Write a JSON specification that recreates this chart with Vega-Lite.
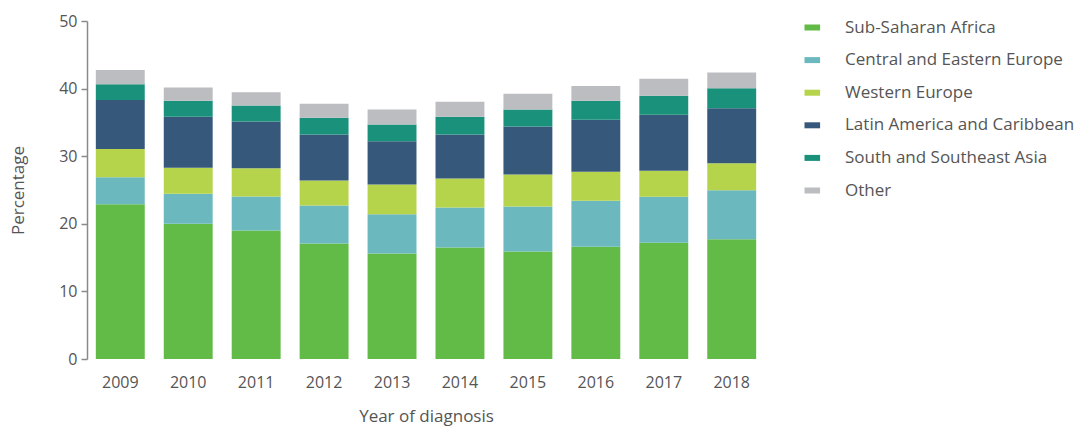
{
  "$schema": "https://vega.github.io/schema/vega-lite/v6.json",
  "autosize": "none",
  "width": 678,
  "height": 338,
  "padding": {"left": 87, "top": 21, "right": 312, "bottom": 67},
  "background": "white",
  "config": {
    "view": {"stroke": null},
    "font": "Open Sans"
  },
  "data": {
    "values": [
      {"year": "2009", "region": "Sub-Saharan Africa", "value": 22.9},
      {"year": "2009", "region": "Central and Eastern Europe", "value": 4.0},
      {"year": "2009", "region": "Western Europe", "value": 4.15},
      {"year": "2009", "region": "Latin America and Caribbean", "value": 7.25},
      {"year": "2009", "region": "South and Southeast Asia", "value": 2.35},
      {"year": "2009", "region": "Other", "value": 2.1},
      {"year": "2010", "region": "Sub-Saharan Africa", "value": 20.0},
      {"year": "2010", "region": "Central and Eastern Europe", "value": 4.45},
      {"year": "2010", "region": "Western Europe", "value": 3.85},
      {"year": "2010", "region": "Latin America and Caribbean", "value": 7.55},
      {"year": "2010", "region": "South and Southeast Asia", "value": 2.35},
      {"year": "2010", "region": "Other", "value": 1.95},
      {"year": "2011", "region": "Sub-Saharan Africa", "value": 19.0},
      {"year": "2011", "region": "Central and Eastern Europe", "value": 5.05},
      {"year": "2011", "region": "Western Europe", "value": 4.15},
      {"year": "2011", "region": "Latin America and Caribbean", "value": 6.95},
      {"year": "2011", "region": "South and Southeast Asia", "value": 2.35},
      {"year": "2011", "region": "Other", "value": 1.95},
      {"year": "2012", "region": "Sub-Saharan Africa", "value": 17.1},
      {"year": "2012", "region": "Central and Eastern Europe", "value": 5.6},
      {"year": "2012", "region": "Western Europe", "value": 3.7},
      {"year": "2012", "region": "Latin America and Caribbean", "value": 6.8},
      {"year": "2012", "region": "South and Southeast Asia", "value": 2.5},
      {"year": "2012", "region": "Other", "value": 2.05},
      {"year": "2013", "region": "Sub-Saharan Africa", "value": 15.6},
      {"year": "2013", "region": "Central and Eastern Europe", "value": 5.8},
      {"year": "2013", "region": "Western Europe", "value": 4.4},
      {"year": "2013", "region": "Latin America and Caribbean", "value": 6.4},
      {"year": "2013", "region": "South and Southeast Asia", "value": 2.5},
      {"year": "2013", "region": "Other", "value": 2.2},
      {"year": "2014", "region": "Sub-Saharan Africa", "value": 16.5},
      {"year": "2014", "region": "Central and Eastern Europe", "value": 5.9},
      {"year": "2014", "region": "Western Europe", "value": 4.3},
      {"year": "2014", "region": "Latin America and Caribbean", "value": 6.5},
      {"year": "2014", "region": "South and Southeast Asia", "value": 2.65},
      {"year": "2014", "region": "Other", "value": 2.2},
      {"year": "2015", "region": "Sub-Saharan Africa", "value": 15.9},
      {"year": "2015", "region": "Central and Eastern Europe", "value": 6.65},
      {"year": "2015", "region": "Western Europe", "value": 4.75},
      {"year": "2015", "region": "Latin America and Caribbean", "value": 7.1},
      {"year": "2015", "region": "South and Southeast Asia", "value": 2.5},
      {"year": "2015", "region": "Other", "value": 2.35},
      {"year": "2016", "region": "Sub-Saharan Africa", "value": 16.6},
      {"year": "2016", "region": "Central and Eastern Europe", "value": 6.8},
      {"year": "2016", "region": "Western Europe", "value": 4.3},
      {"year": "2016", "region": "Latin America and Caribbean", "value": 7.7},
      {"year": "2016", "region": "South and Southeast Asia", "value": 2.8},
      {"year": "2016", "region": "Other", "value": 2.2},
      {"year": "2017", "region": "Sub-Saharan Africa", "value": 17.2},
      {"year": "2017", "region": "Central and Eastern Europe", "value": 6.8},
      {"year": "2017", "region": "Western Europe", "value": 3.85},
      {"year": "2017", "region": "Latin America and Caribbean", "value": 8.3},
      {"year": "2017", "region": "South and Southeast Asia", "value": 2.8},
      {"year": "2017", "region": "Other", "value": 2.5},
      {"year": "2018", "region": "Sub-Saharan Africa", "value": 17.7},
      {"year": "2018", "region": "Central and Eastern Europe", "value": 7.25},
      {"year": "2018", "region": "Western Europe", "value": 4.0},
      {"year": "2018", "region": "Latin America and Caribbean", "value": 8.15},
      {"year": "2018", "region": "South and Southeast Asia", "value": 2.95},
      {"year": "2018", "region": "Other", "value": 2.35}
    ]
  },
  "transform": [
    {"calculate": "indexof(['Sub-Saharan Africa', 'Central and Eastern Europe', 'Western Europe', 'Latin America and Caribbean', 'South and Southeast Asia', 'Other'], datum.region)", "as": "stackOrder"}
  ],
  "mark": {"type": "bar"},
  "encoding": {
    "x": {
      "field": "year",
      "type": "ordinal",
      "title": "Year of diagnosis",
      "scale": {"paddingInner": 0.28, "paddingOuter": 0.13},
      "axis": {
        "domain": false,
        "ticks": false,
        "labelAngle": 0,
        "labelPadding": 15,
        "labelFontSize": 16,
        "labelColor": "#555555",
        "titleFontSize": 17,
        "titleFontWeight": "normal",
        "titleColor": "#555555",
        "titleBaseline": "top",
        "titleY": 49
      }
    },
    "y": {
      "field": "value",
      "type": "quantitative",
      "stack": "zero",
      "title": "Percentage",
      "scale": {"domain": [0, 50], "nice": false},
      "axis": {
        "values": [0, 10, 20, 30, 40, 50],
        "grid": false,
        "domainColor": "#8a8a8a",
        "domainWidth": 1.5,
        "tickColor": "#8a8a8a",
        "tickWidth": 1.5,
        "tickSize": 6,
        "labelPadding": 4,
        "labelFontSize": 16,
        "labelColor": "#555555",
        "titleFontSize": 17,
        "titleFontWeight": "normal",
        "titleColor": "#555555",
        "titleX": -60,
        "titleY": 169
      }
    },
    "order": {"field": "stackOrder", "type": "quantitative", "sort": "ascending"},
    "color": {
      "field": "region",
      "type": "nominal",
      "sort": ["Sub-Saharan Africa", "Central and Eastern Europe", "Western Europe", "Latin America and Caribbean", "South and Southeast Asia", "Other"],
      "scale": {
        "domain": ["Sub-Saharan Africa", "Central and Eastern Europe", "Western Europe", "Latin America and Caribbean", "South and Southeast Asia", "Other"],
        "range": ["#62bb46", "#6bb9bf", "#b5d44b", "#36587a", "#1a917a", "#bcbdc0"]
      },
      "legend": {
        "title": null,
        "orient": "none",
        "legendX": 712,
        "legendY": -2,
        "symbolType": "M-0.5,-0.5H2.1V0.5H-0.5Z",
        "symbolSize": 144,
        "symbolStrokeWidth": 0,
        "symbolOpacity": 1,
        "labelFontSize": 17,
        "labelColor": "#555555",
        "labelOffset": 29,
        "rowPadding": 14.6,
        "labelLimit": 400
      }
    }
  }
}
